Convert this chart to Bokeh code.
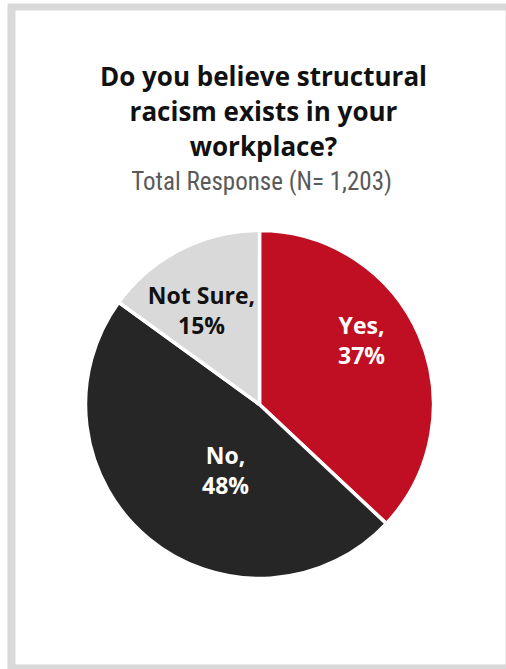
import math
from bokeh.plotting import figure
from bokeh.models import Range1d, ColumnDataSource
from bokeh.core.properties import value
from bokeh.embed import file_html
from bokeh.resources import INLINE

# ---- data ----
title_lines = ["Do you believe structural", "racism exists in your", "workplace?"]
subtitle = "Total Response  (N= 1,203)"
categories = ["Yes", "No", "Not Sure"]
percents = [37, 48, 15]

# ---- styles / layout ----
colors = ["#C00F22", "#262626", "#D9D9D9"]
label_colors = ["#FFFFFF", "#FFFFFF", "#111111"]
label_offsets = [(102, 64), (-34, -66), (-58, 94)]  # px from pie centre (x right, y up)
TS = 9  # text baseline correction (px)

W, H = 506, 669


def X(px):
    return px


def Y(py):
    return H - py


p = figure(width=W, height=H, output_backend="svg", toolbar_location=None,
           x_range=Range1d(0, W), y_range=Range1d(0, H), min_border=0)
p.axis.visible = False
p.grid.visible = False
p.outline_line_color = None
p.background_fill_color = "white"
p.border_fill_color = "white"

# frame border
p.quad(left=[X(7)], right=[X(506)], bottom=[Y(669)], top=[Y(3)], fill_color="#D9D9D9", line_color=None)
p.quad(left=[X(15)], right=[X(505)], bottom=[Y(664)], top=[Y(10)], fill_color="white", line_color=None)

# title
font = value("Open Sans")
for i, t in enumerate(title_lines):
    p.text(x=[X(263)], y=[Y(84 + 35 * i - TS)], text=[t], text_font=font, text_font_style="bold",
           text_font_size="26px", text_align="center", text_baseline="alphabetic", text_color="#111111")
p.text(x=[X(264)], y=[Y(190 - TS)], text=[subtitle], text_font=value("Roboto Condensed, Roboto"),
       text_font_size="25px", text_align="center", text_baseline="alphabetic", text_color="#595959")

# pie
cx, cy, r = X(259), Y(404), 174
total = sum(percents)
starts, ends = [], []
cum = 0
for v in percents:
    starts.append(math.radians(90 - cum / total * 360))
    cum += v
    ends.append(math.radians(90 - cum / total * 360))

src = ColumnDataSource(dict(cat=categories, val=percents, start=starts, end=ends, color=colors))
p.wedge(x=cx, y=cy, radius=r, start_angle="start", end_angle="end", direction="clock",
        fill_color="color", line_color="white", line_width=3.5, source=src)

# labels
for cat, v, (dx, dy), tc in zip(categories, percents, label_offsets, label_colors):
    ax, ay = cx + dx, cy + dy
    p.text(x=[ax], y=[ay + 7 + TS], text=[cat + ","], text_font=font, text_font_style="bold",
           text_font_size="23px", text_align="center", text_baseline="alphabetic", text_color=tc)
    p.text(x=[ax], y=[ay - 23 + TS], text=[f"{v}%"], text_font=font, text_font_style="bold",
           text_font_size="23px", text_align="center", text_baseline="alphabetic", text_color=tc)

open("out.html", "w").write(file_html(p, INLINE))
